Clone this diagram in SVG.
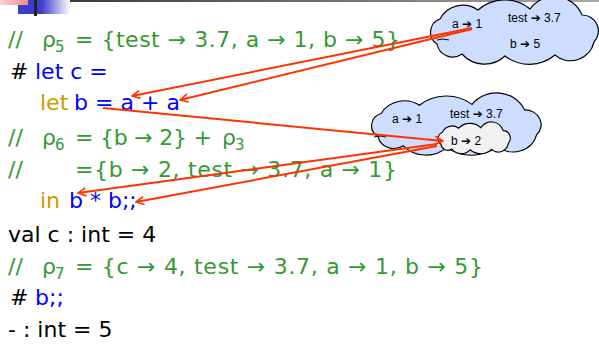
<svg xmlns="http://www.w3.org/2000/svg" width="599" height="347" viewBox="0 0 599 347">
  <style>
    .code { font-family: "DejaVu Sans", Verdana, sans-serif; font-size: 22px; }
    .sub { font-family: "DejaVu Sans", Verdana, sans-serif; font-size: 15px; }
    .cm { fill: #339933; }
    .kw { fill: #0000FF; }
    .let { fill: #CC9900; }
    .plain { fill: #000000; }
    .cloud { fill: #CCDDFF; stroke: #000000; stroke-width: 1.2; }
    .cloud-in { fill: #F2F2F2; stroke: #000000; }
    .env { font-family: "Liberation Sans", Arial, "DejaVu Sans", sans-serif; font-size: 12px; fill: #000000; }
    .arr { font-family: "DejaVu Sans", sans-serif; font-weight: bold; }
    .ref { fill: none; stroke: #FF3300; stroke-width: 2; marker-end: url(#ah); }
  </style>
  <defs>
    <linearGradient id="topLine" x1="0" y1="0" x2="1" y2="0">
      <stop offset="0" stop-color="#333333"/>
      <stop offset="1" stop-color="#AAAAAA"/>
    </linearGradient>
    <linearGradient id="blueFade" x1="0" y1="0" x2="1" y2="0">
      <stop offset="0" stop-color="#3D3DCC"/>
      <stop offset="0.45" stop-color="#3D3DCC"/>
      <stop offset="1" stop-color="#FFFFFF"/>
    </linearGradient>
    <linearGradient id="pinkFade" x1="0" y1="0" x2="1" y2="0">
      <stop offset="0" stop-color="#FFD0D0"/>
      <stop offset="1" stop-color="#F28C8C"/>
    </linearGradient>
    <!-- cloud outline, about 170 x 66 -->
    <path id="cloudShape" d="M9,43 A14,14 0 0 1 12,18 A26,26 0 0 1 50,9 A40,40 0 0 1 102,8 A30,30 0 0 1 154,14 A16,16 0 0 1 166,41 A24,24 0 0 1 127,54 A40,40 0 0 1 77,55 A30,30 0 0 1 34,53 A16,16 0 0 1 9,43 Z"/>
    <marker id="ah" viewBox="0 0 10 10" refX="9" refY="5" markerWidth="10" markerHeight="10" markerUnits="userSpaceOnUse" orient="auto">
      <path d="M1,1 L9,5 L1,9" fill="none" stroke="#FF3300" stroke-width="1.6"/>
    </marker>
  </defs>

  <!-- title bar ornament -->
  <g id="ornament">
    <rect x="34" y="0" width="565" height="2" fill="url(#topLine)"/>
    <rect x="18" y="0" width="52" height="14" fill="url(#blueFade)"/>
    <rect x="0" y="0" width="28" height="5" fill="url(#pinkFade)"/>
    <rect x="34" y="0" width="3" height="16" fill="#222222"/>
  </g>

  <!-- program text -->
  <g id="code" class="code">
    <text x="8" y="47" class="cm">//</text>
    <text x="42" y="47" class="cm">ρ</text>
    <text x="55" y="52" class="sub cm">5</text>
    <text x="75" y="47" class="cm" textLength="325" lengthAdjust="spacing">= {test → 3.7, a → 1, b → 5}</text>

    <text x="10" y="79" class="plain">#</text>
    <text x="35" y="79" class="kw">let c =</text>

    <text x="40" y="110" class="let">let</text>
    <text x="74" y="110" class="kw" textLength="106" lengthAdjust="spacing">b = a + a</text>

    <text x="8" y="145" class="cm">//</text>
    <text x="42" y="145" class="cm">ρ</text>
    <text x="55" y="150" class="sub cm">6</text>
    <text x="75" y="145" class="cm" textLength="137" lengthAdjust="spacing">= {b → 2} +</text>
    <text x="222" y="145" class="cm">ρ</text>
    <text x="235" y="150" class="sub cm">3</text>

    <text x="8" y="177" class="cm">//</text>
    <text x="75" y="177" class="cm" textLength="322" lengthAdjust="spacing">={b → 2, test → 3.7, a → 1}</text>

    <text x="40" y="208" class="let">in</text>
    <text x="69" y="208" class="kw">b * b;;</text>

    <text x="8" y="242" class="plain">val c : int = 4</text>

    <text x="8" y="274" class="cm">//</text>
    <text x="42" y="274" class="cm">ρ</text>
    <text x="55" y="279" class="sub cm">7</text>
    <text x="75" y="274" class="cm" textLength="408" lengthAdjust="spacing">= {c → 4, test → 3.7, a → 1, b → 5}</text>

    <text x="10" y="305" class="plain">#</text>
    <text x="35" y="305" class="kw">b;;</text>

    <text x="8" y="337" class="plain">- : int = 5</text>
  </g>

  <!-- environment rho5 -->
  <g id="env-rho5">
    <use href="#cloudShape" class="cloud" transform="translate(428,1)"/>
    <path d="M437,40 q6,-2 12,0" fill="none" stroke="#000" stroke-width="1"/>
    <text x="452" y="28" class="env">a <tspan class="arr">➔</tspan> 1</text>
    <text x="508" y="22" class="env">test <tspan class="arr">➔</tspan> 3.7</text>
    <text x="510" y="48" class="env">b <tspan class="arr">➔</tspan> 5</text>
  </g>

  <!-- environment rho6 with nested frame -->
  <g id="env-rho6">
    <use href="#cloudShape" class="cloud" transform="translate(369,97) scale(1.01,0.92)"/>
    <path d="M374,137 q6,-2 12,0" fill="none" stroke="#000" stroke-width="1"/>
    <text x="392" y="123" class="env">a <tspan class="arr">➔</tspan> 1</text>
    <text x="450" y="118" class="env">test <tspan class="arr">➔</tspan> 3.7</text>
  </g>
  <g id="env-b2">
    <use href="#cloudShape" class="cloud-in" transform="translate(437,124) scale(0.43,0.47)" style="stroke-width:2.6"/>
    <text x="451" y="145" class="env">b <tspan class="arr">➔</tspan> 2</text>
  </g>

  <!-- references from identifiers to bindings -->
  <g id="connectors">
    <line x1="472" y1="28" x2="132" y2="96" class="ref"/>
    <line x1="472" y1="29" x2="180" y2="100" class="ref"/>
    <line x1="103" y1="108" x2="443" y2="141" class="ref"/>
    <line x1="437" y1="144" x2="78" y2="193" class="ref"/>
    <line x1="437" y1="146" x2="136" y2="202" class="ref"/>
  </g>
</svg>
